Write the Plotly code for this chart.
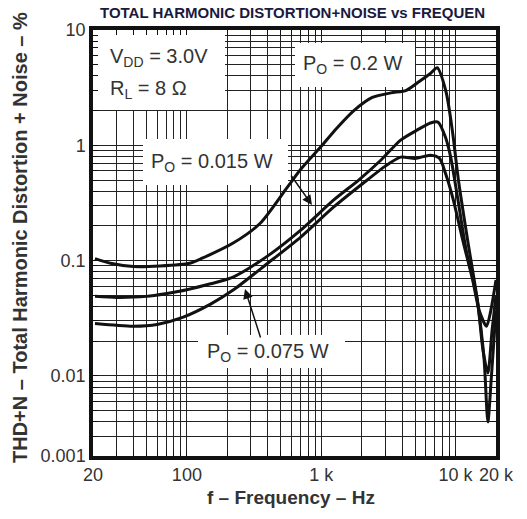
import math
import plotly.graph_objects as go

# ---------------- data ----------------
freq_a = [20.7, 27, 40, 63, 105, 130, 221, 353, 560, 704, 1000, 1300, 1750, 2400, 3300,
          4300, 5400, 6500, 7300, 8500, 9500, 10500, 12300, 14500, 16300, 17400, 18500, 20000]
thd_a = [0.104, 0.095, 0.089, 0.090, 0.095, 0.105, 0.142, 0.212, 0.434, 0.62, 0.98, 1.4, 2.0, 2.6, 2.85,
         3.0, 3.6, 4.2, 4.7, 2.9, 1.3, 0.5, 0.15, 0.046, 0.014, 0.004, 0.01, 0.037]

freq_b = [20.7, 30, 50, 71, 100, 150, 221, 400, 704, 1240, 1900, 2800, 3900, 5200, 6500,
          7400, 8400, 9200, 10400, 12000, 14500, 16000, 17400, 18700, 20000]
thd_b = [0.049, 0.048, 0.049, 0.052, 0.056, 0.063, 0.072, 0.11, 0.184, 0.336, 0.5, 0.75, 1.11, 1.36, 1.56,
         1.59, 1.18, 0.79, 0.34, 0.123, 0.046, 0.0168, 0.0106, 0.025, 0.05]

freq_c = [20.7, 30, 40, 60, 94, 150, 221, 400, 704, 1240, 2200, 3000, 3900, 5000, 6500,
          7600, 8400, 9600, 11300, 13400, 15000, 17000, 18300, 20000]
thd_c = [0.0285, 0.0275, 0.027, 0.028, 0.0324, 0.042, 0.0556, 0.095, 0.16, 0.292, 0.5, 0.66, 0.79, 0.77, 0.82,
         0.77, 0.575, 0.34, 0.151, 0.068, 0.037, 0.027, 0.037, 0.068]

x_tick_vals = [20, 100, 1000, 10000, 20000]
x_tick_text = ["20", "100", "1 k", "10 k", "20 k"]
y_bottom = 10 ** -2.694
y_tick_vals = [y_bottom, 0.01, 0.1, 1, 10]
y_tick_text = ["0.001", "0.01", "0.1", "1", "10"]

x_minor = [m * 10 ** d for d in range(1, 5) for m in range(2, 10) if 20 < m * 10 ** d < 20000]
y_minor = [m * 10 ** d for d in range(-3, 1) for m in range(2, 10) if y_bottom < m * 10 ** d < 10]

# ---------------- layout geometry (pixels) ----------------
W, H = 527, 519
L, R, T, B = 93, 496, 30, 456
XLO, XHI = math.log10(20), math.log10(20000)
YLO, YHI = math.log10(y_bottom), 1.0


def px(x):
    return (x - L) / (R - L)


def py(y):
    return (B - y) / (B - T)


def dx(x):  # pixel -> data x
    return 10 ** (XLO + px(x) * (XHI - XLO))


def dy(y):  # pixel -> data y
    return 10 ** (YLO + py(y) * (YHI - YLO))


fig = go.Figure()

# white label boxes covering the grid (drawn first, under curves)
boxes = [(94, 225, 31, 110), (295, 415, 43, 87), (143, 288, 139, 185), (198, 345, 335, 368)]
for x0, x1, y0, y1 in boxes:
    fig.add_trace(go.Scatter(x=[dx(x0), dx(x1), dx(x1), dx(x0), dx(x0)],
                             y=[dy(y0), dy(y0), dy(y1), dy(y1), dy(y0)],
                             mode="lines", fill="toself", fillcolor="white",
                             line=dict(width=0, color="white"),
                             showlegend=False, hoverinfo="skip"))

for f, v in [(freq_a, thd_a), (freq_b, thd_b), (freq_c, thd_c)]:
    fig.add_trace(go.Scatter(x=f, y=v, mode="lines",
                             line=dict(color="#111111", width=3, shape="spline", smoothing=0.7),
                             showlegend=False, hoverinfo="skip"))

txt_font = dict(family="Liberation Sans, Arial, sans-serif", size=20, color="#333333")
labels = [
    ("V<sub>DD</sub> = 3.0V", 108, 57),
    ("R<sub>L</sub> = 8 Ω", 108, 89),
    ("P<sub>O</sub> = 0.2 W", 301, 65),
    ("P<sub>O</sub> = 0.015 W", 149, 162),
    ("P<sub>O</sub> = 0.075 W", 205, 352),
]
for t, x, y in labels:
    fig.add_annotation(text=t, xref="paper", yref="paper", x=px(x), y=py(y),
                       xanchor="left", yanchor="middle", showarrow=False, font=txt_font)

# arrows (head position in paper coords, tail offset in pixels)
arrows = [((312, 205), (-22, -31)), ((245, 289), (16, 50))]
for (hx, hy), (ax, ay) in arrows:
    fig.add_annotation(text="", xref="paper", yref="paper", x=px(hx), y=py(hy),
                       ax=ax, ay=ay, showarrow=True, arrowhead=2, arrowsize=1.3,
                       arrowwidth=1.5, arrowcolor="#111111")

# titles
fig.add_annotation(text="<b>TOTAL HARMONIC DISTORTION+NOISE vs FREQUEN</b>",
                   xref="paper", yref="paper", x=px(292), y=py(13), xanchor="center", yanchor="middle",
                   showarrow=False, font=dict(family="Liberation Sans, Arial", size=15, color="#1a1a40"))
fig.add_annotation(text="<b>f – Frequency – Hz</b>",
                   xref="paper", yref="paper", x=px(291), y=py(497), xanchor="center", yanchor="middle",
                   showarrow=False, font=dict(family="Liberation Sans, Arial", size=19, color="#333333"))
fig.add_annotation(text="<b>THD+N – Total Harmonic Distortion + Noise – %</b>",
                   xref="paper", yref="paper", x=px(20), y=py(238), xanchor="center", yanchor="middle",
                   textangle=-90, showarrow=False,
                   font=dict(family="Liberation Sans, Arial", size=20, color="#333333"))

axis_common = dict(type="log", showline=True, linewidth=3.5, linecolor="#111111", mirror="ticks",
                   showgrid=True, gridcolor="#222222", gridwidth=1.2,
                   ticks="inside", ticklen=5, tickcolor="#111111", tickwidth=1.2,
                   tickfont=dict(family="Liberation Sans, Arial", size=18, color="#333333"),
                   zeroline=False)

fig.update_xaxes(**axis_common, range=[XLO, XHI],
                 tickmode="array", tickvals=x_tick_vals, ticktext=x_tick_text,
                 minor=dict(tickmode="array", tickvals=x_minor, showgrid=True, gridcolor="#222222",
                            gridwidth=1.2, ticks="inside", ticklen=5, tickcolor="#111111"))
fig.update_yaxes(**axis_common, range=[YLO, YHI],
                 tickmode="array", tickvals=y_tick_vals, ticktext=y_tick_text,
                 minor=dict(tickmode="array", tickvals=y_minor, showgrid=True, gridcolor="#222222",
                            gridwidth=1.2, ticks="inside", ticklen=5, tickcolor="#111111"))

fig.update_layout(width=W, height=H, margin=dict(l=L, r=W - R, t=T, b=H - B),
                  plot_bgcolor="white", paper_bgcolor="white")

fig.write_html("out.html")
